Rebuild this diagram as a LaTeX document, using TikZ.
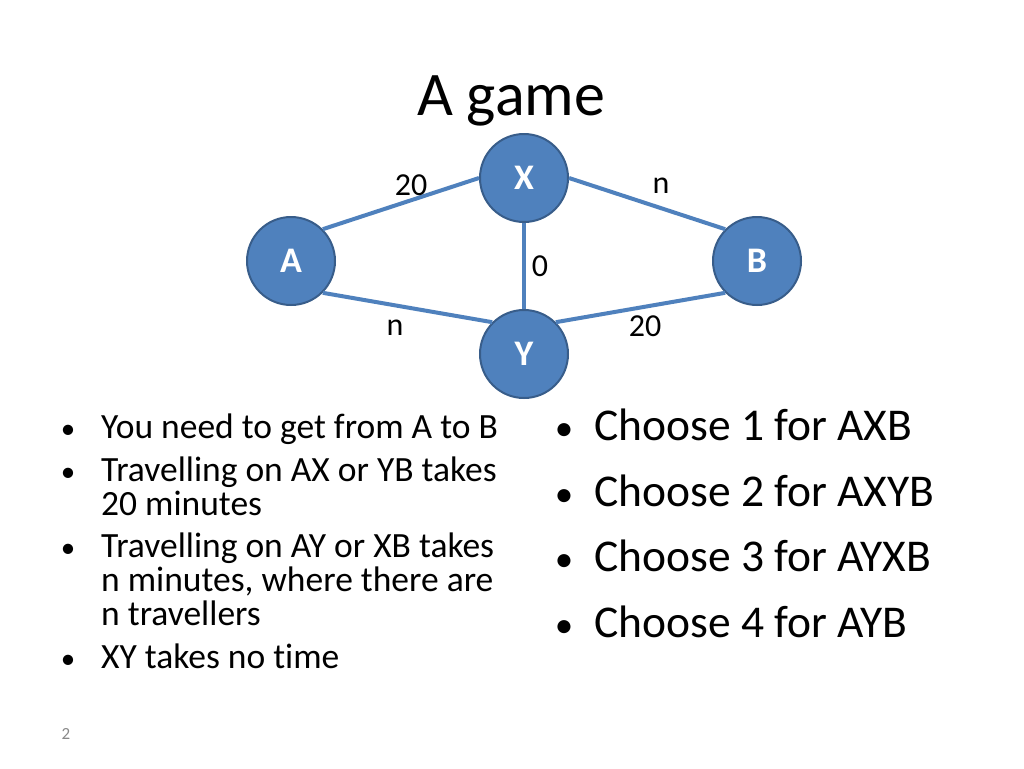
\documentclass[tikz,border=0pt]{standalone}
\usepackage{fontspec}
\setmainfont{Carlito}[Ligatures=NoCommon]
\definecolor{nodefill}{HTML}{4F81BD}
\definecolor{nodeedge}{HTML}{385D8A}
\definecolor{pagegray}{HTML}{898989}
\begin{document}
\begin{tikzpicture}[x=1pt,y=-1pt,
  vertex/.style={circle,fill=nodefill,draw=nodeedge,line width=2pt,minimum size=88pt,inner sep=0pt,
    text=white,font=\fontsize{36}{38}\selectfont\bfseries},
  edge/.style={draw=nodefill,line width=4pt},
  elabel/.style={font=\fontsize{32}{34}\selectfont,inner sep=0pt},
  lefttext/.style={font=\fontsize{35.5}{37}\selectfont,anchor=base west,inner sep=0pt},
  righttext/.style={font=\fontsize{45.5}{48}\selectfont,anchor=base west,inner sep=0pt},
  leftbul/.style={font=\fontsize{29}{30}\selectfont,anchor=base,inner sep=0pt},
  rightbul/.style={font=\fontsize{37}{38}\selectfont,anchor=base,inner sep=0pt}]
\useasboundingbox (0,0) rectangle (1024,768);
\fill[white] (0,0) rectangle (1024,768);
% title
\node[font=\fontsize{62}{64}\selectfont,anchor=base,inner sep=0pt] (title) at (511,115) {A game};
% graph
\node[vertex] (X) at (524,178) {X};
\node[vertex] (A) at (291,261) {A};
\node[vertex] (B) at (757,261) {B};
\node[vertex] (Y) at (524,354) {Y};
\draw[edge] (A.north east) -- (X.west);
\draw[edge] (X.east) -- (B.north west);
\draw[edge] (A.south east) -- (Y.north west);
\draw[edge] (Y.north east) -- (B.south west);
\draw[edge] (X.south) -- (Y.north);
\node[elabel] (l20a) at (411,185) {20};
\node[elabel] (lna) at (661,186) {n};
\node[elabel] (l0) at (540,266) {0};
\node[elabel] (lnb) at (395,328) {n};
\node[elabel] (l20b) at (645,326) {20};
% left bullets
\node[leftbul] (b1) at (68,438) {•};
\node[lefttext] (t1) at (101,438) {You need to get from A to B};
\node[leftbul] (b2) at (68,481) {•};
\node[lefttext] (t2a) at (101,481) {Travelling on AX or YB takes};
\node[lefttext] (t2b) at (101,515) {20 minutes};
\node[leftbul] (b3) at (68,557) {•};
\node[lefttext] (t3a) at (101,557) {Travelling on AY or XB takes};
\node[lefttext] (t3b) at (101,591) {n minutes, where there are};
\node[lefttext] (t3c) at (101,625) {n travellers};
\node[leftbul] (b4) at (68,668) {•};
\node[lefttext] (t4) at (101,668) {XY takes no time};
% right bullets
\node[rightbul] (r1b) at (564,440) {•};
\node[righttext] (r1) at (594,440) {Choose 1 for AXB};
\node[rightbul] (r2b) at (564,506) {•};
\node[righttext] (r2) at (594,506) {Choose 2 for AXYB};
\node[rightbul] (r3b) at (564,571) {•};
\node[righttext] (r3) at (594,571) {Choose 3 for AYXB};
\node[rightbul] (r4b) at (564,637) {•};
\node[righttext] (r4) at (594,637) {Choose 4 for AYB};
% page number
\node[font=\fontsize{17}{19}\selectfont,text=pagegray,anchor=base,inner sep=0pt] (pg) at (66,739) {2};
\end{tikzpicture}
\end{document}
